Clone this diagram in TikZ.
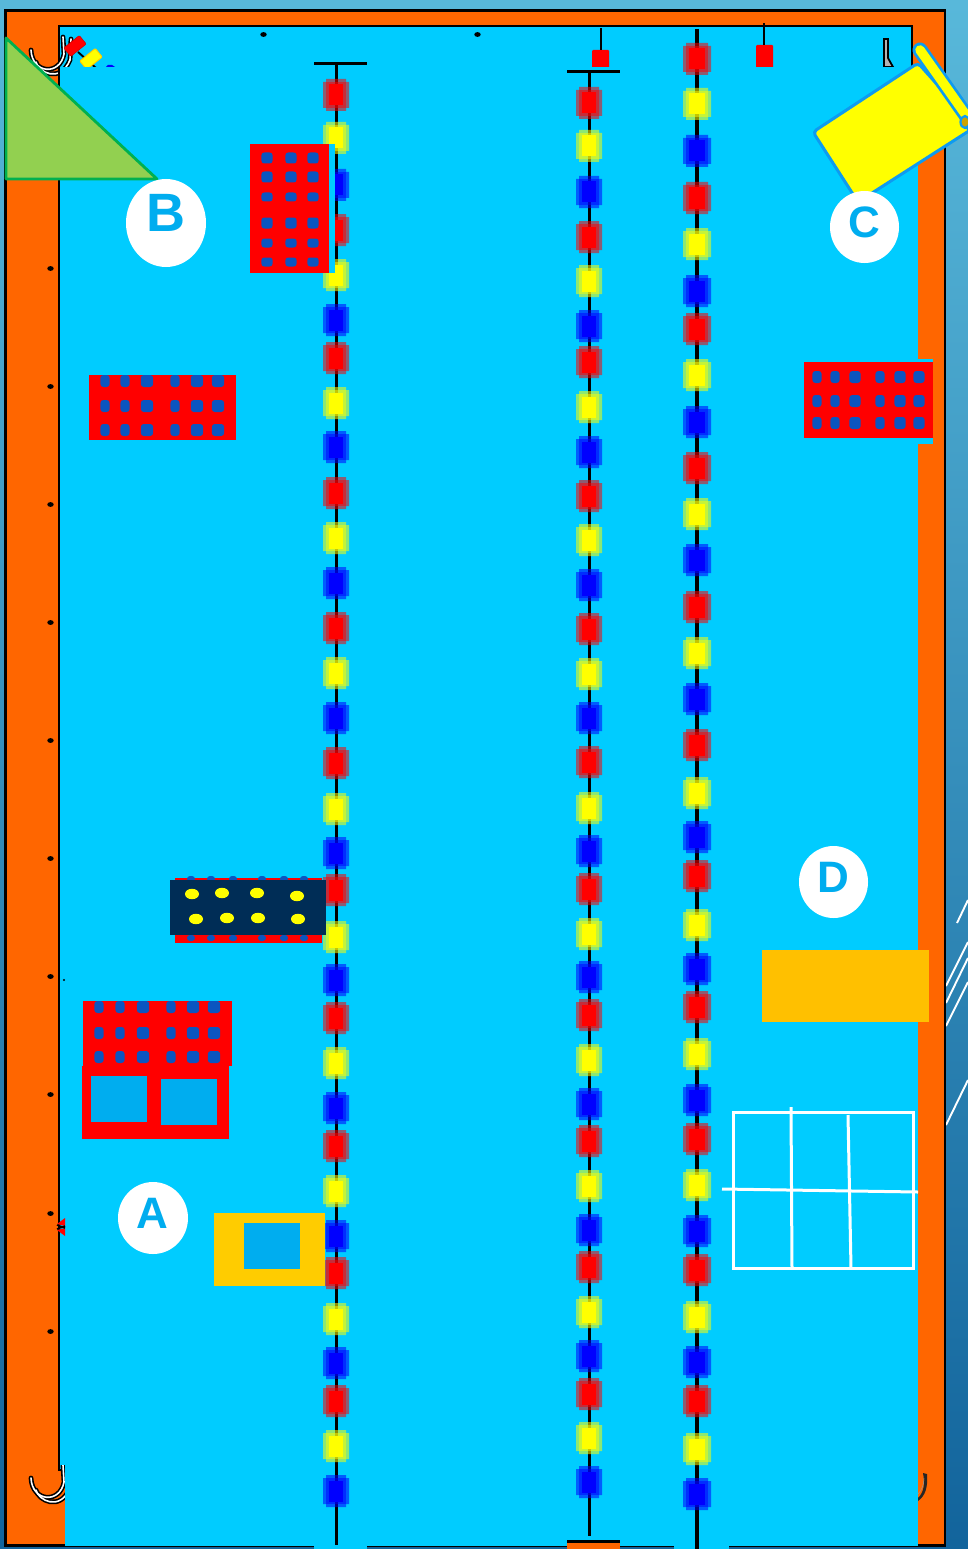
\documentclass[tikz,border=0pt]{standalone}
\usepackage{fontspec}
\setmainfont{Liberation Sans}
\definecolor{poolcyan}{HTML}{00CCFF}
\definecolor{frameorange}{HTML}{FF6600}
\definecolor{bgtop}{HTML}{58B8DA}
\definecolor{bgbot}{HTML}{12649C}
\definecolor{skyblue}{HTML}{00ADEF}
\definecolor{dotblue}{HTML}{0B55C0}
\definecolor{navy}{HTML}{002D56}
\definecolor{goldA}{HTML}{FFCC00}
\definecolor{goldD}{HTML}{FFC000}
\definecolor{leaf}{HTML}{92D050}
\definecolor{leafline}{HTML}{00B050}
\definecolor{scrollline}{HTML}{0E9BF0}
\definecolor{pureyellow}{RGB}{255,255,0}
\tikzset{
  rope/.style={draw=black,line width=3.1pt},
  tbar/.style={draw=black,line width=3.1pt},
  hookout/.style={draw=black,line width=4.8pt,line cap=round},
  hookin/.style={draw=white,line width=1.6pt,line cap=round},
  gridline/.style={draw=white,line width=3pt},
  badge/.style={fill=white,draw=none,ellipse},
  badgetext/.style={text=skyblue,font=\bfseries,inner sep=0pt},
  peg/.style={fill=black},
}
\usetikzlibrary{shapes.geometric}
% x, half-width, list
\newcommand{\beadcol}[3]{%
  \foreach \yy/\cc in {#3}{%
    \pgfmathsetmacro{\xa}{#2}
    \pgfmathsetmacro{\xb}{#2-3}
    \pgfmathsetmacro{\xc}{#2-6}
    \fill[\cc,opacity=.55] (#1-\xa,\yy-13) -- (#1-\xb,\yy-13) -- (#1-\xb,\yy-16) -- (#1+\xb,\yy-16) -- (#1+\xb,\yy-13) -- (#1+\xa,\yy-13)
       -- (#1+\xa,\yy+13) -- (#1+\xb,\yy+13) -- (#1+\xb,\yy+16) -- (#1-\xb,\yy+16) -- (#1-\xb,\yy+13) -- (#1-\xa,\yy+13) -- cycle;
    \fill[\cc,opacity=.5] (#1-\xb,\yy-13) rectangle (#1+\xb,\yy+13);
    \fill[\cc] (#1-\xc,\yy-10.5) rectangle (#1+\xc,\yy+10.5);
  }%
}
\newcommand{\dotgrid}[4]{% xs, ys, half w, half h
  \foreach \dx in {#1}{\foreach \dy in {#2}{\fill[dotblue,rounded corners=3pt] (\dx-#3,\dy-#4) rectangle (\dx+#3,\dy+#4);}}%
}
\newcommand{\hookpair}[1]{%
  \begin{scope}[yshift=#1]
    \foreach \s in {hookout,hookin}{
      \draw[\s] (36,62) .. controls (38,72) and (60,84) .. (70,60) -- (71,39);
      \draw[\s] (31,50) .. controls (32,74) and (60,76) .. (64,54) -- (63,37);
    }
  \end{scope}%
}
\begin{document}
\begin{tikzpicture}[x=1pt,y=-1pt]
\useasboundingbox (0,0) rectangle (968,1549);
\clip (0,0) rectangle (968,1549);
% background
\shade[top color=bgtop,bottom color=bgbot] (0,0) rectangle (968,1549);
\foreach \a/\b/\c/\d in {946/986/968/942,946/1003/968/958,946/1026/968/982,957/923/968/900,946/1125/968/1080}
  \draw[white,line width=1.9pt] (\a,\b) -- (\c,\d);
% frame
\fill[frameorange,draw=black,line width=2.4pt] (5.5,10.5) rectangle (945,1545.5);
\fill[poolcyan,draw=black,line width=2.4pt] (59,26) rectangle (912,1470);
% top marks, cut by the water below
\hookpair{0pt}
\hookpair{-1428pt}
\draw[black,line width=1.8pt,fill=white!70!black] (884,39) -- (888,39) -- (888,58) -- (893,67) -- (884,67) -- cycle;
\fill[black!85] (918,1498) .. controls (924,1492) and (925,1484) .. (923,1473) -- (927,1474) .. controls (928,1488) and (925,1496) .. (918,1501) -- cycle;
\draw[white!60!black,line width=.5pt] (918,1494) .. controls (922,1490) and (924,1484) .. (924,1478);
\draw[black,line width=1.9pt] (78,52) -- (96,68);
\fill[red,draw=red!80!black,line width=.5pt,rounded corners=1pt,rotate around={39:(75,46)}] (65,40.5) rectangle (85,51.5);
\fill[pureyellow,draw=goldA,line width=.9pt,rounded corners=1pt,rotate around={39:(91,59)}] (81,53.5) rectangle (101,64.5);
\fill[blue] (106,67) -- (108,65) -- (112,65) -- (115,67) -- cycle;
\fill[red,rounded corners=1pt] (592,50) rectangle (609,70);
\fill[red,rounded corners=1pt] (756,45) rectangle (773,70);
\draw[black,line width=2pt] (600.5,28) -- (600.5,50);
\draw[black,line width=2pt] (764,23) -- (764,45);
% water
\fill[poolcyan] (65,67) rectangle (918,1546);
\fill[poolcyan] (59,67) rectangle (65,1465);
\draw[black,line width=2.4pt] (59,67) -- (59,1465);
\fill[poolcyan] (314,1546) rectangle (367,1549);
\fill[poolcyan] (674,1546) rectangle (729,1549);
\fill[frameorange] (567,1541) rectangle (620,1549);
\draw[tbar] (567,1541.5) -- (620,1541.5);
% pegs
\foreach \yy in {268.5,386.5,504.5,622.5,740.5,858.5,976.5,1094.5,1213.5,1331.5}
  \fill[peg] (50.5,\yy) ellipse (3.2 and 2.4);
\fill[peg] (263.5,34.5) ellipse (3.2 and 2.4);
\fill[peg] (477.5,34.5) ellipse (3.2 and 2.4);
\fill[peg] (64,980) circle (1.1);
\fill[red] (65,1218) -- (57,1224) -- (65,1226) -- cycle;
\fill[red] (65,1236) -- (57,1230) -- (65,1228) -- cycle;
\draw[black,line width=1.6pt] (57,1225) -- (65,1228) (57,1229) -- (65,1226);
% lane ropes
\draw[rope] (336.5,63) -- (336.5,1545);
\draw[tbar] (314,63.5) -- (367,63.5);
\draw[rope] (589.5,71) -- (589.5,1536);
\draw[tbar] (567,71.5) -- (620,71.5);
\draw[rope] (697,29) -- (697,1549);
\beadcol{336}{13}{95/red,138/pureyellow,185/blue,230/red,275/pureyellow,320/blue,358/red,403/pureyellow,447/blue,493/red,538/pureyellow,583/blue,628/red,673/pureyellow,718/blue,763/red,809/pureyellow,853/blue,890/red,937/pureyellow,980/blue,1018/red,1063/pureyellow,1108/blue,1146/red,1191/pureyellow,1236/blue,1273/red,1319/pureyellow,1363/blue,1401/red,1446/pureyellow,1491/blue}
\beadcol{589}{13}{103/red,146/pureyellow,192/blue,237/red,281/pureyellow,326/blue,362/red,407/pureyellow,452/blue,496/red,540/pureyellow,585/blue,629/red,674/pureyellow,718/blue,762/red,808/pureyellow,851/blue,889/red,934/pureyellow,977/blue,1015/red,1060/pureyellow,1104/blue,1141/red,1186/pureyellow,1230/blue,1267/red,1312/pureyellow,1356/blue,1394/red,1438/pureyellow,1482/blue}
\beadcol{697}{14}{59/red,104/pureyellow,151/blue,198/red,244/pureyellow,291/blue,329/red,375/pureyellow,422/blue,468/red,514/pureyellow,560/blue,607/red,653/pureyellow,699/blue,745/red,793/pureyellow,837/blue,876/red,925/pureyellow,969/blue,1007/red,1054/pureyellow,1100/blue,1139/red,1185/pureyellow,1231/blue,1270/red,1317/pureyellow,1362/blue,1401/red,1449/pureyellow,1494/blue}
% block B
\fill[poolcyan] (329,144) rectangle (335,273);
\fill[red] (250,144) rectangle (329,273);
\dotgrid{267,291,313}{158,177,223}{5.7}{5.5}
\dotgrid{267,291,313}{197,243,262}{5.7}{4.5}
% left block
\fill[red] (89,375) rectangle (236,440);
\dotgrid{105,125,175}{381,406,430}{4.6}{6}
\dotgrid{147,197,218}{381,406,430}{6.2}{6}
% right block
\fill[poolcyan] (804,359) rectangle (933,444);
\fill[red] (804,362) rectangle (933,438);
\dotgrid{817,835,880}{377,401,423}{4.6}{6}
\dotgrid{855,900,919}{377,401,423}{5.6}{6}
% navy block
\fill[red] (175,878) rectangle (322,943);
\dotgrid{191,211,233,262,284,304}{879,938}{4}{3}
\fill[navy] (170,880) rectangle (326,935);
\foreach \a/\b in {192/894,222/893,257/893,297/896,196/919,227/918,258/918,298/919}
  \fill[pureyellow] (\a,\b) ellipse (7 and 5.2);
% lower left block
\begin{scope}
  \clip (83,1001) rectangle (232,1066);
  \fill[red] (83,1001) rectangle (232,1066);
  \dotgrid{99,120,171}{1007,1033,1057}{4.6}{6}
  \dotgrid{143,193,214}{1007,1033,1057}{6.2}{6}
\end{scope}
\fill[red] (82,1066) rectangle (229,1139);
\fill[skyblue] (91,1076) rectangle (147,1122);
\fill[skyblue] (161,1079) rectangle (217,1125);
% gold
\fill[goldA] (214,1213) rectangle (325,1286);
\fill[skyblue] (244,1223) rectangle (300,1269);
\fill[goldD] (762,950) rectangle (929,1022);
% grid
\draw[gridline] (733,1112) rectangle (913,1268);
\draw[gridline] (791,1107) -- (792,1268);
\draw[gridline] (848,1115) -- (851,1268);
\draw[gridline] (722,1189) -- (918,1192);
% triangle
\fill[leaf,draw=leafline,line width=2.8pt,line join=round] (6,38) -- (157,179) -- (6,179) -- cycle;
% scroll
\fill[pureyellow,draw=scrollline,line width=3pt,rounded corners=4pt] (813,132) -- (918,63) -- (975,127) -- (858,202) -- cycle;
\draw[scrollline,line width=15pt,line cap=round] (920,50) -- (975,128);
\draw[pureyellow,line width=9.5pt,line cap=round] (920,50) -- (975,128);
\fill[goldA!80!black,draw=scrollline,line width=2.2pt] (965,122) ellipse (4.5 and 6);
% badges
\node[badge,minimum width=80pt,minimum height=88pt,inner sep=0pt] (badgeB) at (166,223) {};
\node[badgetext,font=\bfseries\fontsize{54}{54}\selectfont] (textB) at (166,213) {B};
\node[badge,minimum width=69pt,minimum height=72pt,inner sep=0pt] (badgeC) at (864.5,227) {};
\node[badgetext,font=\bfseries\fontsize{44}{44}\selectfont] (textC) at (864,222) {C};
\node[badge,minimum width=70pt,minimum height=72pt,inner sep=0pt] (badgeA) at (153,1218) {};
\node[badgetext,font=\bfseries\fontsize{44}{44}\selectfont] (textA) at (152,1213) {A};
\node[badge,minimum width=69pt,minimum height=72pt,inner sep=0pt] (badgeD) at (833.5,882) {};
\node[badgetext,font=\bfseries\fontsize{44}{44}\selectfont] (textD) at (833,877) {D};
\end{tikzpicture}
\end{document}
